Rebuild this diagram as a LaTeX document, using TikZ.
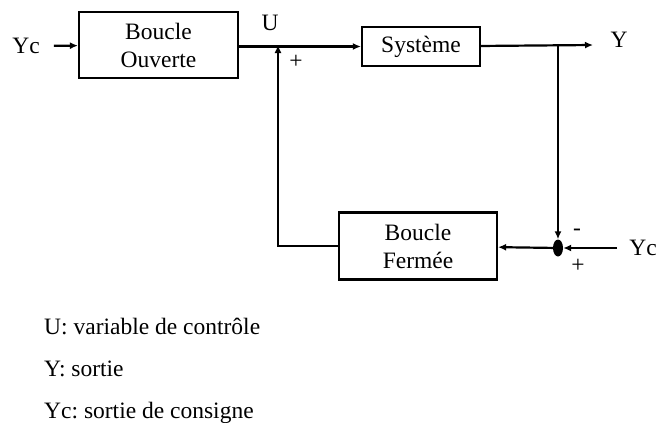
\documentclass[tikz,border=0pt]{standalone}
\usepackage{fontspec}
\setmainfont{Liberation Serif}
\usepackage{tikz}
\usetikzlibrary{positioning, arrows.meta, shapes.geometric}
\frenchspacing

\begin{document}
\begin{tikzpicture}[x=1pt,y=-1pt,
        font=\fontsize{23.5}{28}\selectfont,
        block/.style={draw,line width=2.2pt,align=center,inner sep=0pt},
        txt/.style={inner sep=0pt},
        arrow/.style={line width=2.2pt,-{Latex[length=8pt,width=7pt]}}]
    \useasboundingbox (0,0) rectangle (659,423);
    % blocs
    \node[block,minimum width=159pt,minimum height=66pt] (bo) at (158.5,45)
        {Boucle\\Ouverte};
    \node[block,minimum width=118pt,minimum height=39pt] (sys) at (421,46.5)
        {Système};
    \node[block,minimum width=158pt,minimum height=67pt] (bf) at (418,246)
        {Boucle\\Fermée};
    \node[ellipse,fill=black,inner sep=0pt,minimum width=10pt,
          minimum height=17pt] (sum) at (558,248) {};
    % signaux
    \node[txt] (ycin) at (26,46) {Yc};
    \node[txt] (u) at (270,23) {U};
    \node[txt] (y) at (619,40) {Y};
    \node[txt] (ycref) at (643,248) {Yc};
    \node[txt] (plusu) at (296,62) {+};
    \node[txt] (minus) at (577,232) {-};
    \node[txt] (plusr) at (578,266) {+};
    \coordinate (yout) at (593,45);
    \coordinate (br) at (558,45);
    \coordinate (fb) at (278,246);
    \coordinate (fbtop) at (278,45);
    % liaisons
    \draw[arrow,shorten <=14pt] (ycin) -- (bo);
    \draw[arrow] (bo.east |- sys) -- (sys);
    \draw[arrow] (sys) -- (yout);
    \draw[arrow] (br) -- (sum);
    \draw[arrow,shorten <=12pt] (ycref) -- (sum);
    \draw[arrow] (sum) -- (bf);
    \draw[arrow] (bf.west) -- (fb) -- (fbtop);
    % legende
    \node[txt,anchor=base west] (lu) at (44,334) {U: variable de contrôle};
    \node[txt,anchor=base west] (ly) at (44,376) {Y: sortie};
    \node[txt,anchor=base west] (lyc) at (44,418) {Yc: sortie de consigne};
\end{tikzpicture}
\end{document}
